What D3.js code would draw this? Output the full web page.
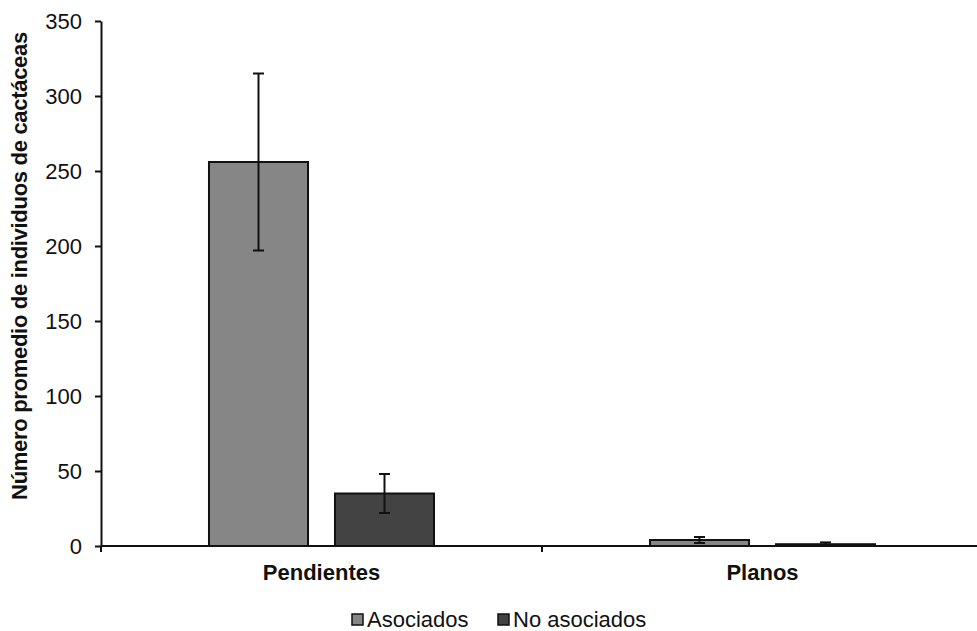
<!DOCTYPE html>
<html>
<head>
<meta charset="utf-8">
<script src="https://cdn.jsdelivr.net/npm/d3@7"></script>
<style>
  html, body { margin: 0; padding: 0; background: #fff; }
  svg { display: block; font-family: "Liberation Sans", Arial, sans-serif; }
</style>
</head>
<body>
<svg id="chart" width="977" height="631"></svg>
<script>
// Sites and groups of cacti
const categories = ["Pendientes", "Planos"];
const series = ["Asociados", "No asociados"];
// Mean number of individuals per site (Asociados, No asociados)
const asociados = [256, 4];
const noAsociados = [35, 1.2];
// Error bar half-widths
const errAsociados = [59, 2];
const errNoAsociados = [13, 1.2];
const yTicks = [0, 50, 100, 150, 200, 250, 300, 350];
const colors = ["#868686", "#434343"];

const svg = d3.select("#chart");
const plotLeft = 101, plotRight = 983, plotTop = 21, plotBottom = 546;

const y = d3.scaleLinear().domain([0, 350]).range([plotBottom, plotTop]);
const x0 = d3.scaleBand().domain(categories).range([plotLeft, plotRight]).padding(0);
const x1 = d3.scaleBand().domain(series).range([0, x0.bandwidth()])
  .paddingInner(0.214).paddingOuter(0.857);

const rows = categories.map((c, i) => ({
  cat: c,
  vals: [
    { s: series[0], v: asociados[i], e: errAsociados[i] },
    { s: series[1], v: noAsociados[i], e: errNoAsociados[i] }
  ]
}));

// Bars
const groups = svg.selectAll("g.grp").data(rows).join("g")
  .attr("class", "grp")
  .attr("transform", d => `translate(${x0(d.cat)},0)`);

groups.selectAll("rect").data(d => d.vals).join("rect")
  .attr("x", d => x1(d.s))
  .attr("y", d => y(d.v))
  .attr("width", x1.bandwidth())
  .attr("height", d => y(0) - y(d.v))
  .attr("fill", (d, i) => colors[i])
  .attr("stroke", "#111")
  .attr("stroke-width", 2);

// Error bars
const capW = 11;
const eb = groups.selectAll("g.err").data(d => d.vals).join("g").attr("class", "err")
  .attr("stroke", "#111").attr("stroke-width", 2);
eb.append("line")
  .attr("x1", d => x1(d.s) + x1.bandwidth() / 2)
  .attr("x2", d => x1(d.s) + x1.bandwidth() / 2)
  .attr("y1", d => y(Math.max(0, d.v - d.e)))
  .attr("y2", d => y(d.v + d.e));
eb.append("line")
  .attr("x1", d => x1(d.s) + x1.bandwidth() / 2 - capW / 2)
  .attr("x2", d => x1(d.s) + x1.bandwidth() / 2 + capW / 2)
  .attr("y1", d => y(d.v + d.e))
  .attr("y2", d => y(d.v + d.e));
eb.append("line")
  .attr("x1", d => x1(d.s) + x1.bandwidth() / 2 - capW / 2)
  .attr("x2", d => x1(d.s) + x1.bandwidth() / 2 + capW / 2)
  .attr("y1", d => y(Math.max(0, d.v - d.e)))
  .attr("y2", d => y(Math.max(0, d.v - d.e)));

// Y axis
const yAxis = svg.append("g")
  .attr("transform", `translate(${plotLeft},0)`)
  .call(d3.axisLeft(y).tickValues(yTicks).tickSize(6).tickPadding(13).tickSizeOuter(0));
yAxis.attr("font-size", null).attr("font-family", null);
yAxis.select(".domain").attr("stroke", "#111").attr("stroke-width", 2);
yAxis.selectAll(".tick line").attr("stroke", "#111").attr("stroke-width", 2);
yAxis.selectAll(".tick text")
  .style("font-size", "22px").attr("fill", "#111")
  .style("font-family", "'Liberation Sans', Arial, sans-serif");

// X axis: ticks between categories
const xAxisG = svg.append("g");
xAxisG.append("line")
  .attr("x1", plotLeft).attr("x2", plotRight).attr("y1", plotBottom).attr("y2", plotBottom)
  .attr("stroke", "#111").attr("stroke-width", 2);
const boundaries = categories.map(c => x0(c)).concat([x0(categories[categories.length - 1]) + x0.bandwidth()]);
xAxisG.selectAll("line.tk").data(boundaries).join("line").attr("class", "tk")
  .attr("x1", d => d).attr("x2", d => d)
  .attr("y1", plotBottom).attr("y2", plotBottom + 6)
  .attr("stroke", "#111").attr("stroke-width", 2);
xAxisG.selectAll("text").data(categories).join("text")
  .attr("x", d => x0(d) + x0.bandwidth() / 2)
  .attr("y", 580)
  .attr("text-anchor", "middle")
  .style("font-size", "22px").attr("font-weight", "bold").attr("fill", "#111")
  .text(d => d);

// Y axis title
svg.append("text")
  .attr("transform", "translate(27,266) rotate(-90)")
  .attr("text-anchor", "middle")
  .style("font-size", "22px").attr("font-weight", "bold").attr("fill", "#111")
  .attr("letter-spacing", "-0.3")
  .text("Número promedio de individuos de cactáceas");

// Legend
const legendX = [352, 498];
const lg = svg.selectAll("g.legend").data(series).join("g").attr("class", "legend")
  .attr("transform", (d, i) => `translate(${legendX[i]},614)`);
lg.append("rect").attr("width", 11).attr("height", 11)
  .attr("fill", (d, i) => colors[i]).attr("stroke", "#111").attr("stroke-width", 1.5);
lg.append("text").attr("x", 15).attr("y", 13)
  .style("font-size", "22px").attr("fill", "#111")
  .text(d => d);
</script>
</body>
</html>
